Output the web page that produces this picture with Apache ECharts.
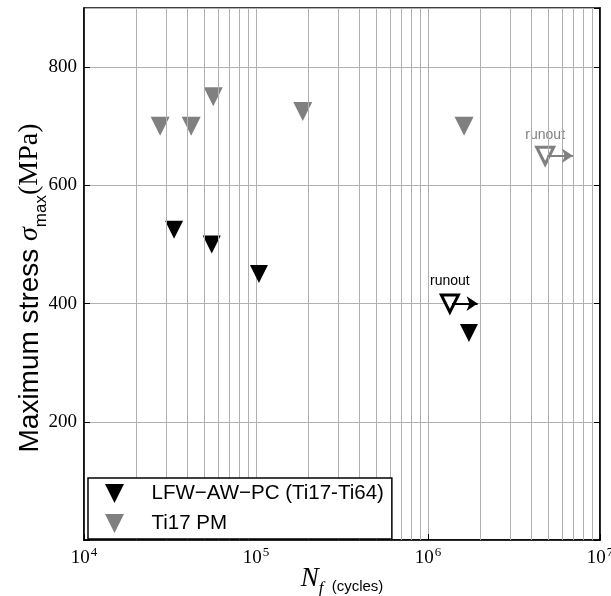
<!DOCTYPE html>
<html>
<head>
<meta charset="utf-8">
<script src="https://cdn.jsdelivr.net/npm/echarts@6/dist/echarts.min.js"></script>
<style>
  html, body { margin: 0; padding: 0; background: #fff; }
  #container { width: 611px; height: 596px; }
</style>
</head>
<body>
<div id="container"></div>
<script>
// data
var lfwData = [[3.34e4, 525], [5.53e4, 500], [1.04e5, 450], [1.73e6, 350]];
var ti17Data = [[2.77e4, 700], [4.2e4, 700], [5.64e4, 750], [1.87e5, 725], [1.62e6, 700]];
var lfwRunout = [[1.34e6, 400]];
var ti17Runout = [[4.8e6, 650]];
var yTicks = [200, 400, 600, 800];
var seriesNames = ["LFW\u2212AW\u2212PC (Ti17-Ti64)", "Ti17 PM"];

// vertical minor grid lines 2..9 x 10^n
var minorX = [];
for (var p = 4; p < 7; p++) {
  for (var k = 2; k < 10; k++) {
    minorX.push({ xAxis: k * Math.pow(10, p) });
  }
}

var downTri = "path://M0,0L2,0L1,2Z";
var gray = "#808080";
var gridGray = "#b0b0b0";

function arrowFor(pts) {
  // runout arrow pointing right from the open triangle
  return pts.map(function (d) {
    return [{ coord: [d[0] * 1.03, d[1]] }, { coord: [d[0] * 1.45, d[1]] }];
  });
}

var dom = document.getElementById("container");
var myChart = echarts.init(dom, null, { renderer: "canvas" });

var option = {
  animation: false,
  grid: {
    left: 84,
    right: 11,
    top: 8,
    bottom: 56,
    containLabel: false,
    outerBoundsMode: "none",
    show: true,
    borderColor: "#000",
    borderWidth: 1.5,
  },
  legend: {
    orient: "vertical",
    left: 88,
    top: 478,
    z: 20,
    data: seriesNames,
    backgroundColor: "#fff",
    borderColor: "#000",
    borderWidth: 1.5,
    borderRadius: 0,
    padding: [5, 8, 5, 17],
    itemGap: 9,
    itemWidth: 20,
    itemHeight: 19,
    icon: downTri,
    textStyle: {
      fontFamily: "Liberation Sans",
      fontSize: 20.5,
      color: "#000",
      padding: [0, 0, 0, 22],
    },
  },
  xAxis: {
    type: "log",
    logBase: 10,
    min: 1e4,
    max: 1e7,
    name: "{n|N}{f|f}{c|  (cycles)}",
    nameLocation: "middle",
    nameGap: 22,
    nameMoveOverlap: false,
    nameTextStyle: {
      rich: {
        n: { fontFamily: "Liberation Serif", fontStyle: "italic", fontSize: 27, color: "#000", lineHeight: 30, verticalAlign: "bottom" },
        f: { fontFamily: "Liberation Serif", fontStyle: "italic", fontSize: 17, color: "#000", lineHeight: 24, verticalAlign: "bottom", padding: [0, 0, -5, 0] },
        c: { fontFamily: "Liberation Sans", fontSize: 15, color: "#000", lineHeight: 24, verticalAlign: "bottom", padding: [0, 0, -2, 0] },
      },
    },
    axisLine: { show: true, lineStyle: { color: "#000", width: 1.5 } },
    axisTick: { show: true, inside: true, length: 6, lineStyle: { color: "#000" } },
    splitLine: { show: true, lineStyle: { color: gridGray, width: 1 } },
    axisLabel: {
      margin: 6,
      formatter: function (v) {
        return "{b|10}{s|" + Math.round(Math.log10(v)) + "}";
      },
      rich: {
        b: { fontFamily: "Liberation Serif", fontSize: 19, color: "#000", verticalAlign: "bottom", lineHeight: 22 },
        s: { fontFamily: "Liberation Serif", fontSize: 13, color: "#000", verticalAlign: "top", lineHeight: 22, padding: [0, 0, 8, 1] },
      },
    },
  },
  yAxis: [
    {
      type: "value",
      min: 0,
      max: 900,
      interval: 200,
      name: "Maximum stress {s|\u03c3}{m|max}{p|(MPa)}",
      nameLocation: "middle",
      nameGap: 38,
      nameMoveOverlap: false,
      nameTextStyle: {
        fontFamily: "Liberation Sans",
        fontSize: 28,
        color: "#000",
        lineHeight: 32,
        padding: [0, 28, 0, 0],
        rich: {
          s: { fontFamily: "Liberation Serif", fontStyle: "italic", fontSize: 28, color: "#000", lineHeight: 32 },
          m: { fontFamily: "Liberation Sans", fontSize: 17, color: "#000", lineHeight: 32, verticalAlign: "bottom", padding: [0, 0, -4, 0] },
          p: { fontFamily: "Liberation Serif", fontSize: 28, color: "#000", lineHeight: 32 },
        },
      },
      axisLine: { show: true, lineStyle: { color: "#000", width: 1.5 } },
      axisTick: { show: true, inside: true, length: 6, lineStyle: { color: "#000" } },
      splitLine: { show: true, lineStyle: { color: gridGray, width: 1 } },
      axisLabel: {
        margin: 7,
        showMaxLabel: false,
        fontFamily: "Liberation Serif",
        fontSize: 19,
        color: "#000",
        formatter: function (v) {
          return yTicks.indexOf(v) >= 0 ? String(v) : "";
        },
      },
    },
    {
      type: "value",
      min: 0,
      max: 900,
      interval: 200,
      position: "right",
      axisLine: { show: true, lineStyle: { color: "#000", width: 1.5 } },
      axisTick: { show: true, inside: true, length: 6, lineStyle: { color: "#000" } },
      axisLabel: { show: false },
      splitLine: { show: false },
    },
  ],
  series: [
    {
      // minor grid
      name: "minor",
      type: "scatter",
      data: [],
      z: 1,
      markLine: {
        silent: true,
        symbol: ["none", "none"],
        label: { show: false },
        lineStyle: { color: gridGray, width: 1, type: "solid" },
        data: minorX,
      },
    },
    {
      name: seriesNames[0],
      type: "scatter",
      data: lfwData,
      symbol: downTri,
      symbolSize: 18,
      itemStyle: { color: "#000", opacity: 1 },
      z: 3,
    },
    {
      name: seriesNames[1],
      type: "scatter",
      data: ti17Data,
      symbol: downTri,
      symbolSize: 19,
      itemStyle: { color: gray, opacity: 1 },
      z: 3,
    },
    {
      name: "lfwRunout",
      type: "scatter",
      data: lfwRunout,
      symbol: downTri,
      symbolSize: 17,
      itemStyle: { color: "#fff", borderColor: "#000", borderWidth: 3, opacity: 1 },
      label: {
        show: true,
        position: "top",
        distance: 5,
        formatter: "runout",
        fontFamily: "Liberation Sans",
        fontSize: 14,
        color: "#000",
      },
      z: 4,
      markLine: {
        silent: true,
        symbol: ["none", "arrow"],
        symbolSize: 11,
        label: { show: false },
        lineStyle: { color: "#000", width: 2, type: "solid" },
        data: arrowFor(lfwRunout),
      },
    },
    {
      name: "ti17Runout",
      type: "scatter",
      data: ti17Runout,
      symbol: downTri,
      symbolSize: 17,
      itemStyle: { color: "#fff", borderColor: gray, borderWidth: 3, opacity: 1 },
      label: {
        show: true,
        position: "top",
        distance: 4,
        formatter: "runout",
        fontFamily: "Liberation Sans",
        fontSize: 14,
        color: gray,
      },
      z: 4,
      markLine: {
        silent: true,
        symbol: ["none", "arrow"],
        symbolSize: 11,
        label: { show: false },
        lineStyle: { color: gray, width: 2, type: "solid" },
        data: arrowFor(ti17Runout),
      },
    },
  ],
};

if (option && typeof option === "object") {
  myChart.setOption(option);
}
</script>
</body>
</html>
